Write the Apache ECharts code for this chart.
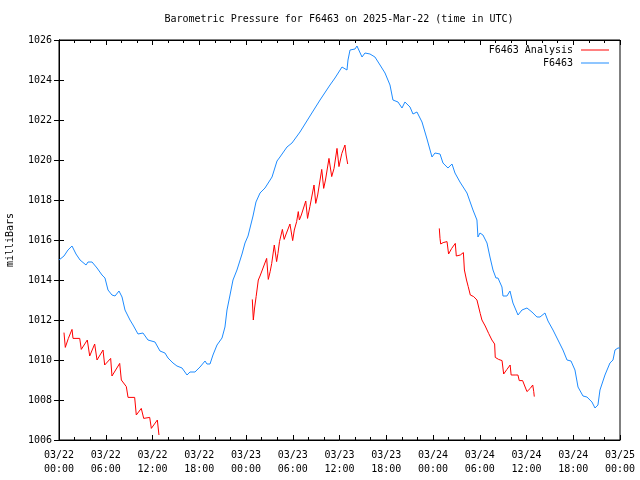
<!DOCTYPE html>
<html>
<head>
<meta charset="utf-8">
<script src="https://cdn.jsdelivr.net/npm/echarts@6/dist/echarts.min.js"></script>
<style>html,body{margin:0;padding:0;background:#fff}#c{width:640px;height:480px}</style>
</head>
<body>
<div id="c"></div>
<script>
// Time in hours since 2025-03-22 00:00 UTC, pressure in millibars
var tickLabels = ['03/22\n00:00','03/22\n06:00','03/22\n12:00','03/22\n18:00','03/23\n00:00','03/23\n06:00','03/23\n12:00','03/23\n18:00','03/24\n00:00','03/24\n06:00','03/24\n12:00','03/24\n18:00','03/25\n00:00'];

var obsHours = [0,0.64,1.15,1.67,2.18,2.7,3.47,3.72,4.24,4.88,5.52,5.9,6.29,6.8,7.19,7.7,8.09,8.47,9.11,9.5,10.14,10.78,11.42,12.32,12.96,13.6,13.99,14.63,15.14,15.79,16.43,16.81,17.45,18.1,18.74,18.99,19.38,19.76,20.28,20.92,21.3,21.56,21.95,22.33,22.84,23.49,23.87,24.26,24.9,25.28,25.8,26.44,27.34,27.98,28.36,29.26,29.9,30.93,32.21,33.5,34.78,35.42,36.32,36.96,37.09,37.35,37.99,38.24,38.89,39.27,39.91,40.55,41.2,41.84,42.48,42.86,43.51,44.02,44.4,45.05,45.43,45.94,46.59,47.23,47.87,48.25,48.9,49.28,49.92,50.44,50.82,51.46,52.36,53.13,53.64,53.77,54.03,54.41,54.93,55.31,55.7,56.08,56.34,56.85,56.98,57.49,57.88,58.26,58.91,59.42,60.06,60.7,61.34,61.73,62.37,62.76,63.4,64.04,64.68,65.2,65.71,66.22,66.61,67.25,67.76,68.4,68.79,69.17,69.43,70.07,70.71,71.1,71.36,71.74,72];
var obsValues = [1015.0,1015.2,1015.5,1015.7,1015.3,1015.0,1014.75,1014.9,1014.9,1014.6,1014.25,1014.1,1013.5,1013.25,1013.2,1013.45,1013.15,1012.5,1012.0,1011.75,1011.3,1011.35,1011.0,1010.9,1010.45,1010.35,1010.1,1009.85,1009.7,1009.6,1009.25,1009.4,1009.4,1009.65,1009.95,1009.8,1009.8,1010.25,1010.75,1011.1,1011.65,1012.5,1013.25,1014.0,1014.5,1015.3,1015.85,1016.2,1017.2,1017.9,1018.35,1018.6,1019.15,1019.95,1020.15,1020.65,1020.85,1021.4,1022.2,1023.0,1023.75,1024.1,1024.65,1024.5,1025.0,1025.5,1025.55,1025.7,1025.15,1025.35,1025.3,1025.15,1024.75,1024.35,1023.75,1023.0,1022.9,1022.6,1022.9,1022.65,1022.3,1022.4,1021.9,1021.05,1020.15,1020.35,1020.3,1019.85,1019.6,1019.8,1019.35,1018.9,1018.35,1017.5,1017.0,1016.15,1016.35,1016.25,1015.85,1015.15,1014.5,1014.1,1014.1,1013.65,1013.2,1013.2,1013.45,1012.85,1012.25,1012.5,1012.6,1012.4,1012.15,1012.15,1012.35,1011.95,1011.5,1011.0,1010.5,1010.0,1009.95,1009.5,1008.65,1008.2,1008.15,1007.9,1007.6,1007.75,1008.5,1009.25,1009.85,1010.0,1010.5,1010.6,1010.6];

// Analysis segments (null value = gap)
var anaHours = [0.64,0.81,1.2,1.67,1.8,2.66,2.86,3.63,3.94,4.58,4.88,5.65,5.86,6.63,6.8,7.79,8.0,8.64,8.86,9.71,9.92,10.56,10.87,11.64,11.85,12.62,12.83,
  18,
  24.81,24.94,25.1,25.3,25.58,25.8,26.0,26.65,26.86,27.1,27.3,27.63,27.93,28.1,28.3,28.67,28.9,29.1,29.64,29.99,30.2,30.5,30.71,30.85,31.1,31.67,31.9,32.2,32.73,32.95,33.2,33.72,33.97,34.2,34.65,35.0,35.3,35.68,35.93,36.3,36.7,36.85,37.05,
  43,
  48.81,48.9,48.99,49.3,49.8,50.0,50.4,50.86,50.99,51.5,51.9,52.03,52.3,52.52,52.79,53.22,53.64,53.86,54.06,54.28,54.7,55.14,55.56,55.91,55.99,56.42,56.86,57.07,57.49,57.9,58.03,58.54,58.9,59.07,59.5,60.06,60.48,60.8,60.93,61.0];
var anaValues = [1011.37,1010.63,1011.08,1011.53,1011.08,1011.08,1010.53,1011.0,1010.2,1010.8,1010.0,1010.5,1009.75,1010.08,1009.2,1009.83,1009.0,1008.67,1008.13,1008.13,1007.25,1007.58,1007.08,1007.13,1006.58,1007.0,1006.25,
  null,
  1013.03,1012.0,1012.6,1013.17,1014.0,1014.2,1014.2,1015.08,1014.03,1014.42,1014.83,1015.75,1014.92,1015.33,1015.92,1016.53,1016.03,1016.25,1016.8,1015.97,1016.5,1016.92,1017.42,1017.0,1017.25,1017.95,1017.08,1017.67,1018.75,1017.83,1018.25,1019.53,1018.58,1019.0,1020.08,1019.17,1019.58,1020.58,1019.67,1020.33,1020.75,1020.25,1019.8,
  null,
  1016.58,1016.08,1015.8,1015.87,1015.92,1015.3,1015.58,1015.83,1015.2,1015.25,1015.37,1014.5,1014.0,1013.67,1013.25,1013.17,1013.0,1012.92,1012.33,1012.0,1011.7,1011.33,1011.0,1010.8,1010.13,1010.03,1009.97,1009.3,1009.53,1009.75,1009.25,1009.25,1009.25,1008.97,1008.97,1008.42,1008.58,1008.75,1008.42,1008.17];

function zip(a, b) { return a.map(function (v, i) { return [v, b[i]]; }); }

var FONT = 'DejaVu Sans Mono';
var chart = echarts.init(document.getElementById('c'), null, {renderer: 'canvas'});
var tickStyle = {color: '#000', width: 1};
chart.setOption({
  animation: false,
  backgroundColor: '#fff',
  grid: {left: 59, right: 20, top: 40, bottom: 40, show: true, borderColor: '#000', borderWidth: 1, backgroundColor: 'transparent'},
  graphic: [
    {type: 'text', x: 339, y: 19, style: {text: 'Barometric Pressure for F6463 on 2025-Mar-22 (time in UTC)', textAlign: 'center', textVerticalAlign: 'middle', font: '10px "' + FONT + '"', fill: '#000'}},
    {type: 'text', x: 10, y: 240, rotation: Math.PI / 2, style: {text: 'milliBars', textAlign: 'center', textVerticalAlign: 'middle', font: '10px "' + FONT + '"', fill: '#000'}}
  ],
  legend: {
    orient: 'vertical', right: 26, top: 40, align: 'right', itemGap: 3,
    itemWidth: 28, itemHeight: 1, icon: 'rect',
    textStyle: {fontFamily: FONT, fontSize: 10, color: '#000', padding: [0, 3, 0, 0]},
    data: ['F6463 Analysis', 'F6463']
  },
  xAxis: [
    {type: 'value', min: 0, max: 72, interval: 6, position: 'bottom',
     axisLine: {show: true, lineStyle: {color: '#000'}},
     axisTick: {show: true, inside: true, length: 5, lineStyle: tickStyle},
     minorTick: {show: true, splitNumber: 3, length: 3, lineStyle: tickStyle},
     splitLine: {show: false},
     axisLabel: {margin: 8, fontFamily: FONT, fontSize: 10, color: '#000', lineHeight: 14,
       formatter: function (v) { return tickLabels[Math.round(v / 6)]; }}},
    {type: 'value', min: 0, max: 72, interval: 6, position: 'top',
     axisLine: {show: true, lineStyle: {color: '#000'}},
     axisTick: {show: true, inside: true, length: 5, lineStyle: tickStyle},
     minorTick: {show: true, splitNumber: 3, length: 3, lineStyle: tickStyle},
     splitLine: {show: false}, axisLabel: {show: false}}
  ],
  yAxis: [
    {type: 'value', min: 1006, max: 1026, interval: 2, position: 'left',
     axisLine: {show: true, lineStyle: {color: '#000'}},
     axisTick: {show: true, inside: true, length: 5, lineStyle: tickStyle},
     splitLine: {show: false},
     axisLabel: {margin: 7, fontFamily: FONT, fontSize: 10, color: '#000', formatter: function (v) { return String(v); }}},
    {type: 'value', min: 1006, max: 1026, interval: 2, position: 'right',
     axisLine: {show: true, lineStyle: {color: '#000'}},
     axisTick: {show: true, inside: true, length: 5, lineStyle: tickStyle},
     splitLine: {show: false}, axisLabel: {show: false}}
  ],
  series: [
    {name: 'F6463 Analysis', type: 'line', data: zip(anaHours, anaValues), showSymbol: false, symbol: 'none',
     connectNulls: false, color: '#ff0000', lineStyle: {width: 1, color: '#ff0000'}},
    {name: 'F6463', type: 'line', data: zip(obsHours, obsValues), showSymbol: false, symbol: 'none',
     color: '#1e8cff', lineStyle: {width: 1, color: '#1e8cff'}}
  ]
});
</script>
</body>
</html>
